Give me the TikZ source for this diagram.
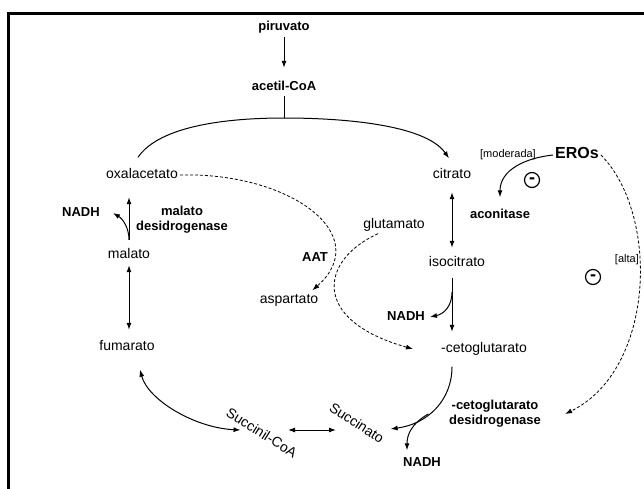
\documentclass[tikz,border=0pt]{standalone}
\usepackage{fontspec}
\setmainfont{Liberation Sans}
\usetikzlibrary{arrows.meta}

\begin{document}
\begin{tikzpicture}[x=1pt, y=-1pt,
    met/.style={font=\fontsize{14}{16}\selectfont, inner sep=2pt, text height=10pt, text depth=3pt},
    enz/.style={font=\bfseries\fontsize{13}{15}\selectfont, inner sep=2pt, text height=10pt, text depth=3pt},
    enzname/.style={font=\bfseries\fontsize{13}{15}\selectfont, inner sep=2pt, align=center},
    note/.style={font=\fontsize{11}{13}\selectfont, inner sep=1pt},
    minus/.style={circle, draw, line width=1.2pt, minimum size=15pt, inner sep=0pt, text height=6pt, text depth=-3.9pt, font=\bfseries\fontsize{18}{18}\selectfont},
    arrow/.style={-{Latex[length=7pt,width=5pt]}, line width=1pt},
    dblarrow/.style={{Latex[length=7pt,width=5pt]}-{Latex[length=7pt,width=5pt]}, line width=1pt},
    dasharrow/.style={-{Latex[length=7pt,width=5pt]}, line width=0.8pt, dash pattern=on 3pt off 2pt}
]
\useasboundingbox (0,0) rectangle (644,489);

% Frame
\draw[line width=3pt] (8.5,489) -- (8.5,13.5) -- (644,13.5);

% Nodes
\node[enz] (piru) at (284,27) {piruvato};
\node[enz] (acet) at (284,87) {acetil-CoA};
\coordinate (join) at (284,118);
\node[met] (oxal) at (142,175) {oxalacetato};
\node[met] (citr) at (452,175) {citrato};
\node[note, anchor=east] (moder) at (537,155) {[moderada]};
\node[enz, font=\bfseries\fontsize{16}{18}\selectfont] (eros) at (577,155) {EROs};
\node[minus] (inh1) at (532,180) {-};
\node[enz] (acon) at (500,215) {aconitase};
\node[enz] (nadh1) at (81,213) {NADH};
\node[enzname] (mdh) at (182,220) {malato\\desidrogenase};
\node[met] (mala) at (129,255) {malato};
\node[enz] (aat) at (315,258) {AAT};
\node[met] (aspa) at (289,300) {aspartato};
\node[met] (glut) at (394,225) {glutamato};
\node[met] (isoc) at (457,263) {isocitrato};
\node[note, anchor=east] (alta) at (640,260) {[alta]};
\node[minus] (inh2) at (593,277) {-};
\node[enz] (nadh2) at (406,317) {NADH};
\node[met] (fuma) at (127,347) {fumarato};
\node[met] (ceto) at (484,349) {-cetoglutarato};
\node[enzname] (akgdh) at (495,414) {-cetoglutarato\\desidrogenase};
\node[met, rotate=-32] (succoa) at (261,434) {Succinil-CoA};
\node[met, rotate=-33] (succ) at (356,424) {Succinato};
\node[enz] (nadh3) at (422,463) {NADH};

% Paths
\draw[arrow, shorten <=1.5pt, shorten >=10.5pt] (piru) -- (piru |- acet.north);
\draw[line width=1pt] (acet) -- (join);
\draw[arrow] ([xshift=-4pt,yshift=9pt]oxal.north) .. controls (160,125) and (230,118) .. (join)
    .. controls (340,118) and (425,124) .. ([xshift=-3pt,yshift=8pt]citr.north);

\draw[arrow, shorten <=6.5pt, shorten >=13.5pt] (mala.north) -- (mala.north |- oxal.south);
\draw[arrow] ([yshift=6.5pt]mala.north) .. controls (129,228) and (123,219) .. ([xshift=11pt]nadh1.east);
\draw[dblarrow, shorten <=1.5pt, shorten >=8.5pt] (mala.south) -- (mala.south |- fuma.north);

\draw[dasharrow] (oxal.east) .. controls (290,172) and (375,235) .. ([xshift=-8pt,yshift=1pt]aspa.north east);
\draw[dasharrow] ([xshift=-16pt]glut.south) .. controls (320,260) and (310,320) .. ([xshift=-26pt]ceto.west);

\draw[dblarrow, shorten <=8.5pt, shorten >=6.5pt] (citr.south) -- (citr.south |- isoc.north);
\draw[arrow, shorten <=6.5pt, shorten >=8.5pt] (citr.south |- isoc.south) -- (citr.south |- ceto.north) coordinate[pos=0.3] (br2);
\draw[arrow] (br2) .. controls (452,306) and (444,314) .. ([xshift=3pt]nadh2.east);

\draw[arrow] (eros.west) .. controls (525,158) and (500,170) .. ([yshift=9pt]acon.north);
\draw[dasharrow] (eros.east) .. controls (660,215) and (655,370) .. ([xshift=22pt]akgdh.east);

\draw[dblarrow] ([xshift=13pt,yshift=-14pt]fuma.south) .. controls (148,400) and (195,428) .. ([xshift=20pt,yshift=-11pt]succoa.south west);
\draw[dblarrow] ([xshift=27pt,yshift=4pt]succoa.center) -- ([xshift=-20pt,yshift=-6pt]succ.center);
\draw[arrow, shorten <=9pt] (citr.south |- ceto.south) .. controls (452,400) and (428,424) .. ([xshift=7pt,yshift=13pt]succ.east) coordinate[pos=0.6] (br3);
\draw[arrow] (br3) .. controls (411,424) and (407,435) .. ([xshift=-15pt,yshift=4pt]nadh3.north);

\end{tikzpicture}
\end{document}
